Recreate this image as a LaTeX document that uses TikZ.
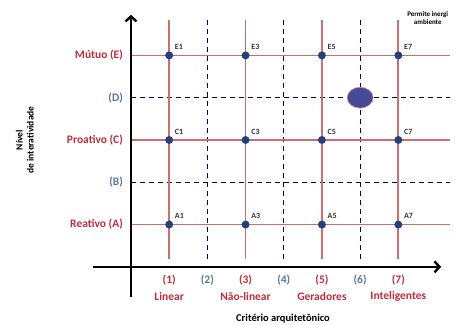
\documentclass[tikz,border=0pt]{standalone}
\usepackage{fontspec}
\setmainfont{Carlito}
\usetikzlibrary{arrows.meta,shapes.geometric}
\definecolor{gridred}{RGB}{205,110,110}
\definecolor{labred}{RGB}{190,45,60}
\definecolor{labblue}{RGB}{90,120,155}
\definecolor{dotblue}{RGB}{35,65,125}
\definecolor{blobblue}{RGB}{70,75,150}
\begin{document}
\begin{tikzpicture}[
    x=38.2pt,
    y=42.3pt,
    font=\bfseries\fontsize{11.5}{13}\selectfont,
    axis/.style={line width=2.4pt, -{Straight Barb[length=5pt,width=11pt,line width=2.4pt]}},
    redline/.style={gridred, line width=1.7pt},
    dashline/.style={black!70!blue, line width=1.1pt, dash pattern=on 5pt off 4pt},
    pt/.style={circle, fill=dotblue, inner sep=0pt, minimum size=8pt},
    ptlabel/.style={font=\bfseries\fontsize{8}{9}\selectfont, text=black!80, label distance=-1pt}
]
\useasboundingbox (-3.43,-1.37) rectangle (8.51,6.31);

% dashed levels and criteria
\draw[dashline] (0,4) -- (8.35,4);
\draw[dashline] (0,2) -- (8.35,2);
\draw[dashline] (2,0.19) -- (2,5.84);
\draw[dashline] (4,0.19) -- (4,5.84);
\draw[dashline] (6,0.19) -- (6,5.84);

% solid levels and criteria
\draw[redline] (0,5) -- (8.35,5);
\draw[redline] (0,3) -- (8.35,3);
\draw[redline] (0,1) -- (8.35,1);
\draw[redline] (1,0.19) -- (1,5.84);
\draw[redline] (3,0.19) -- (3,5.84);
\draw[redline] (5,0.19) -- (5,5.84);
\draw[redline] (7,0.19) -- (7,5.84);

% axes
\draw[axis] (0,-0.71) -- (0,5.96);
\draw[axis] (-1.0,0) -- (8.12,0);

% level labels
\node[anchor=east, text=labred] (lvE) at (-0.12,5) {Mútuo (E)};
\node[anchor=east, text=labblue] (lvD) at (-0.12,4) {(D)};
\node[anchor=east, text=labred] (lvC) at (-0.12,3) {Proativo (C)};
\node[anchor=east, text=labblue] (lvB) at (-0.12,2) {(B)};
\node[anchor=east, text=labred] (lvA) at (-0.12,1) {Reativo (A)};

% criterion labels
\node[text=labred] (cr1) at (1,-0.31) {(1)};
\node[text=labblue] (cr2) at (2,-0.31) {(2)};
\node[text=labred] (cr3) at (3,-0.31) {(3)};
\node[text=labblue] (cr4) at (4,-0.31) {(4)};
\node[text=labred] (cr5) at (5,-0.31) {(5)};
\node[text=labblue] (cr6) at (6,-0.31) {(6)};
\node[text=labred] (cr7) at (7,-0.31) {(7)};
\node[text=labred] (nm1) at (1,-0.71) {Linear};
\node[text=labred] (nm3) at (3,-0.71) {Não-linear};
\node[text=labred] (nm5) at (5,-0.71) {Geradores};
\node[text=labred] (nm7) at (7,-0.71) {Inteligentes};

% axis titles
\node[font=\bfseries\fontsize{10.5}{12}\selectfont] (xtitle) at (3.98,-1.22) {Critério arquitetônico};
\node[rotate=90, align=center, font=\bfseries\fontsize{9.5}{11}\selectfont] (ytitle) at (-2.78,3.0) {Nível\\de interatividade};
\node[align=center, font=\bfseries\fontsize{7}{8}\selectfont] (note) at (7.77,5.89) {Permite inergi\\ambiente};

% points
\node[pt, label={[ptlabel]45:E1}] (E1) at (1,5) {};
\node[pt, label={[ptlabel]45:E3}] (E3) at (3,5) {};
\node[pt, label={[ptlabel]45:E5}] (E5) at (5,5) {};
\node[pt, label={[ptlabel]45:E7}] (E7) at (7,5) {};
\node[pt, label={[ptlabel]45:C1}] (C1) at (1,3) {};
\node[pt, label={[ptlabel]45:C3}] (C3) at (3,3) {};
\node[pt, label={[ptlabel]45:C5}] (C5) at (5,3) {};
\node[pt, label={[ptlabel]45:C7}] (C7) at (7,3) {};
\node[pt, label={[ptlabel]45:A1}] (A1) at (1,1) {};
\node[pt, label={[ptlabel]45:A3}] (A3) at (3,1) {};
\node[pt, label={[ptlabel]45:A5}] (A5) at (5,1) {};
\node[pt, label={[ptlabel]45:A7}] (A7) at (7,1) {};

% intermediate point
\node[ellipse, fill=blobblue, draw=labred!50, line width=0.6pt, minimum width=26pt, minimum height=21pt, inner sep=0pt] (D6) at (6,4) {};
\end{tikzpicture}
\end{document}
